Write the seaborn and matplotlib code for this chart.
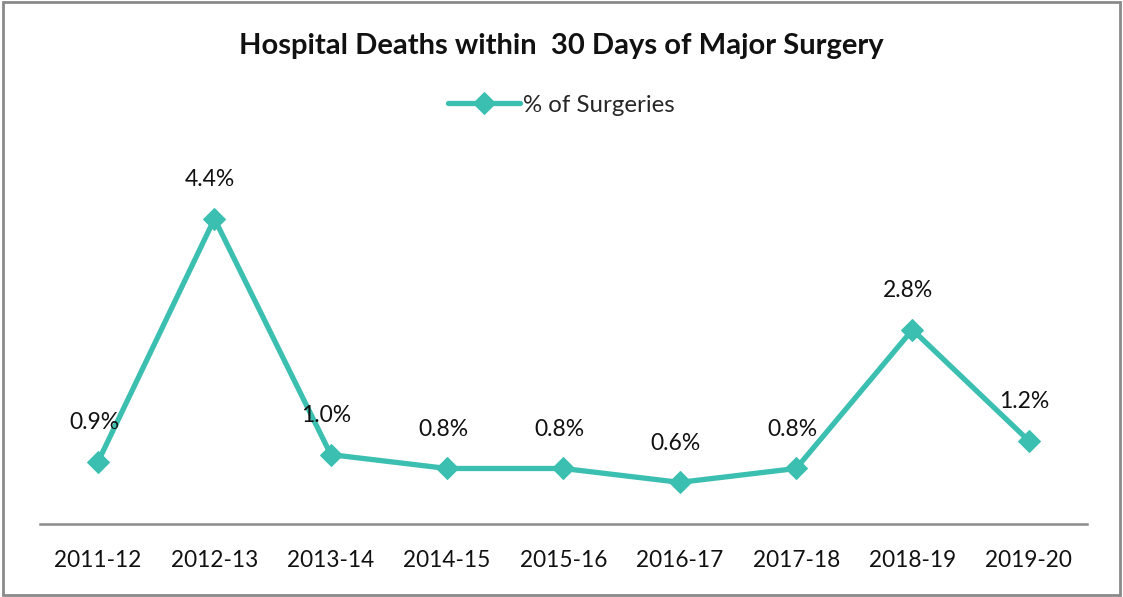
import matplotlib
matplotlib.use("Agg")
import matplotlib.pyplot as plt
import pandas as pd
import seaborn as sns

# data
years = ["2011-12", "2012-13", "2013-14", "2014-15", "2015-16",
         "2016-17", "2017-18", "2018-19", "2019-20"]
pct = [0.9, 4.4, 1.0, 0.8, 0.8, 0.6, 0.8, 2.8, 1.2]
labels = ["0.9%", "4.4%", "1.0%", "0.8%", "0.8%", "0.6%", "0.8%", "2.8%", "1.2%"]

df = pd.DataFrame({"year": years, "pct": pct})

sns.set_style("white")
plt.rcParams["font.family"] = ["Lato", "DejaVu Sans"]

teal = "#3bbfb0"

fig = plt.figure(figsize=(11.23, 5.97), dpi=100)
ax = fig.add_axes([0.0356, 0.1223, 0.9323, 0.581])

sns.lineplot(data=df, x="year", y="pct", ax=ax, color=teal, linewidth=3.8,
             marker="D", markersize=11, markeredgecolor=teal,
             label="% of Surgeries", sort=False)

for i, (v, t) in enumerate(zip(pct, labels)):
    ax.annotate(t, (i, v), xytext=(-3, 28), textcoords="offset points",
                ha="center", va="center", fontsize=16.5, color="#111111")

ax.set_xlim(-0.5, len(years) - 0.5)
ax.set_ylim(0, 5)
ax.set_xlabel("")
ax.set_ylabel("")
ax.set_yticks([])
ax.tick_params(axis="x", labelsize=16.3, length=0, pad=19, colors="#111111")
for s in ["top", "left", "right"]:
    ax.spines[s].set_visible(False)
ax.spines["bottom"].set_color("#8c8c8c")
ax.spines["bottom"].set_linewidth(1.8)

ax.legend_.remove()
h, l = ax.get_legend_handles_labels()
fig.legend(h, l, loc="center", bbox_to_anchor=(0.5, 1 - 105 / 597), frameon=False,
           fontsize=17.3, handlelength=3.0, handletextpad=0.1)

fig.suptitle("Hospital Deaths within  30 Days of Major Surgery", y=1 - 46 / 597,
             va="center", fontsize=21, fontweight="bold", color="#111111")

# grey frame round the chart
fig.patches.append(plt.Rectangle((0.003, 0.003), 0.994, 0.994, transform=fig.transFigure,
                                 fill=False, edgecolor="#8a8a8a", linewidth=2))

fig.savefig("out.png", dpi=100)
